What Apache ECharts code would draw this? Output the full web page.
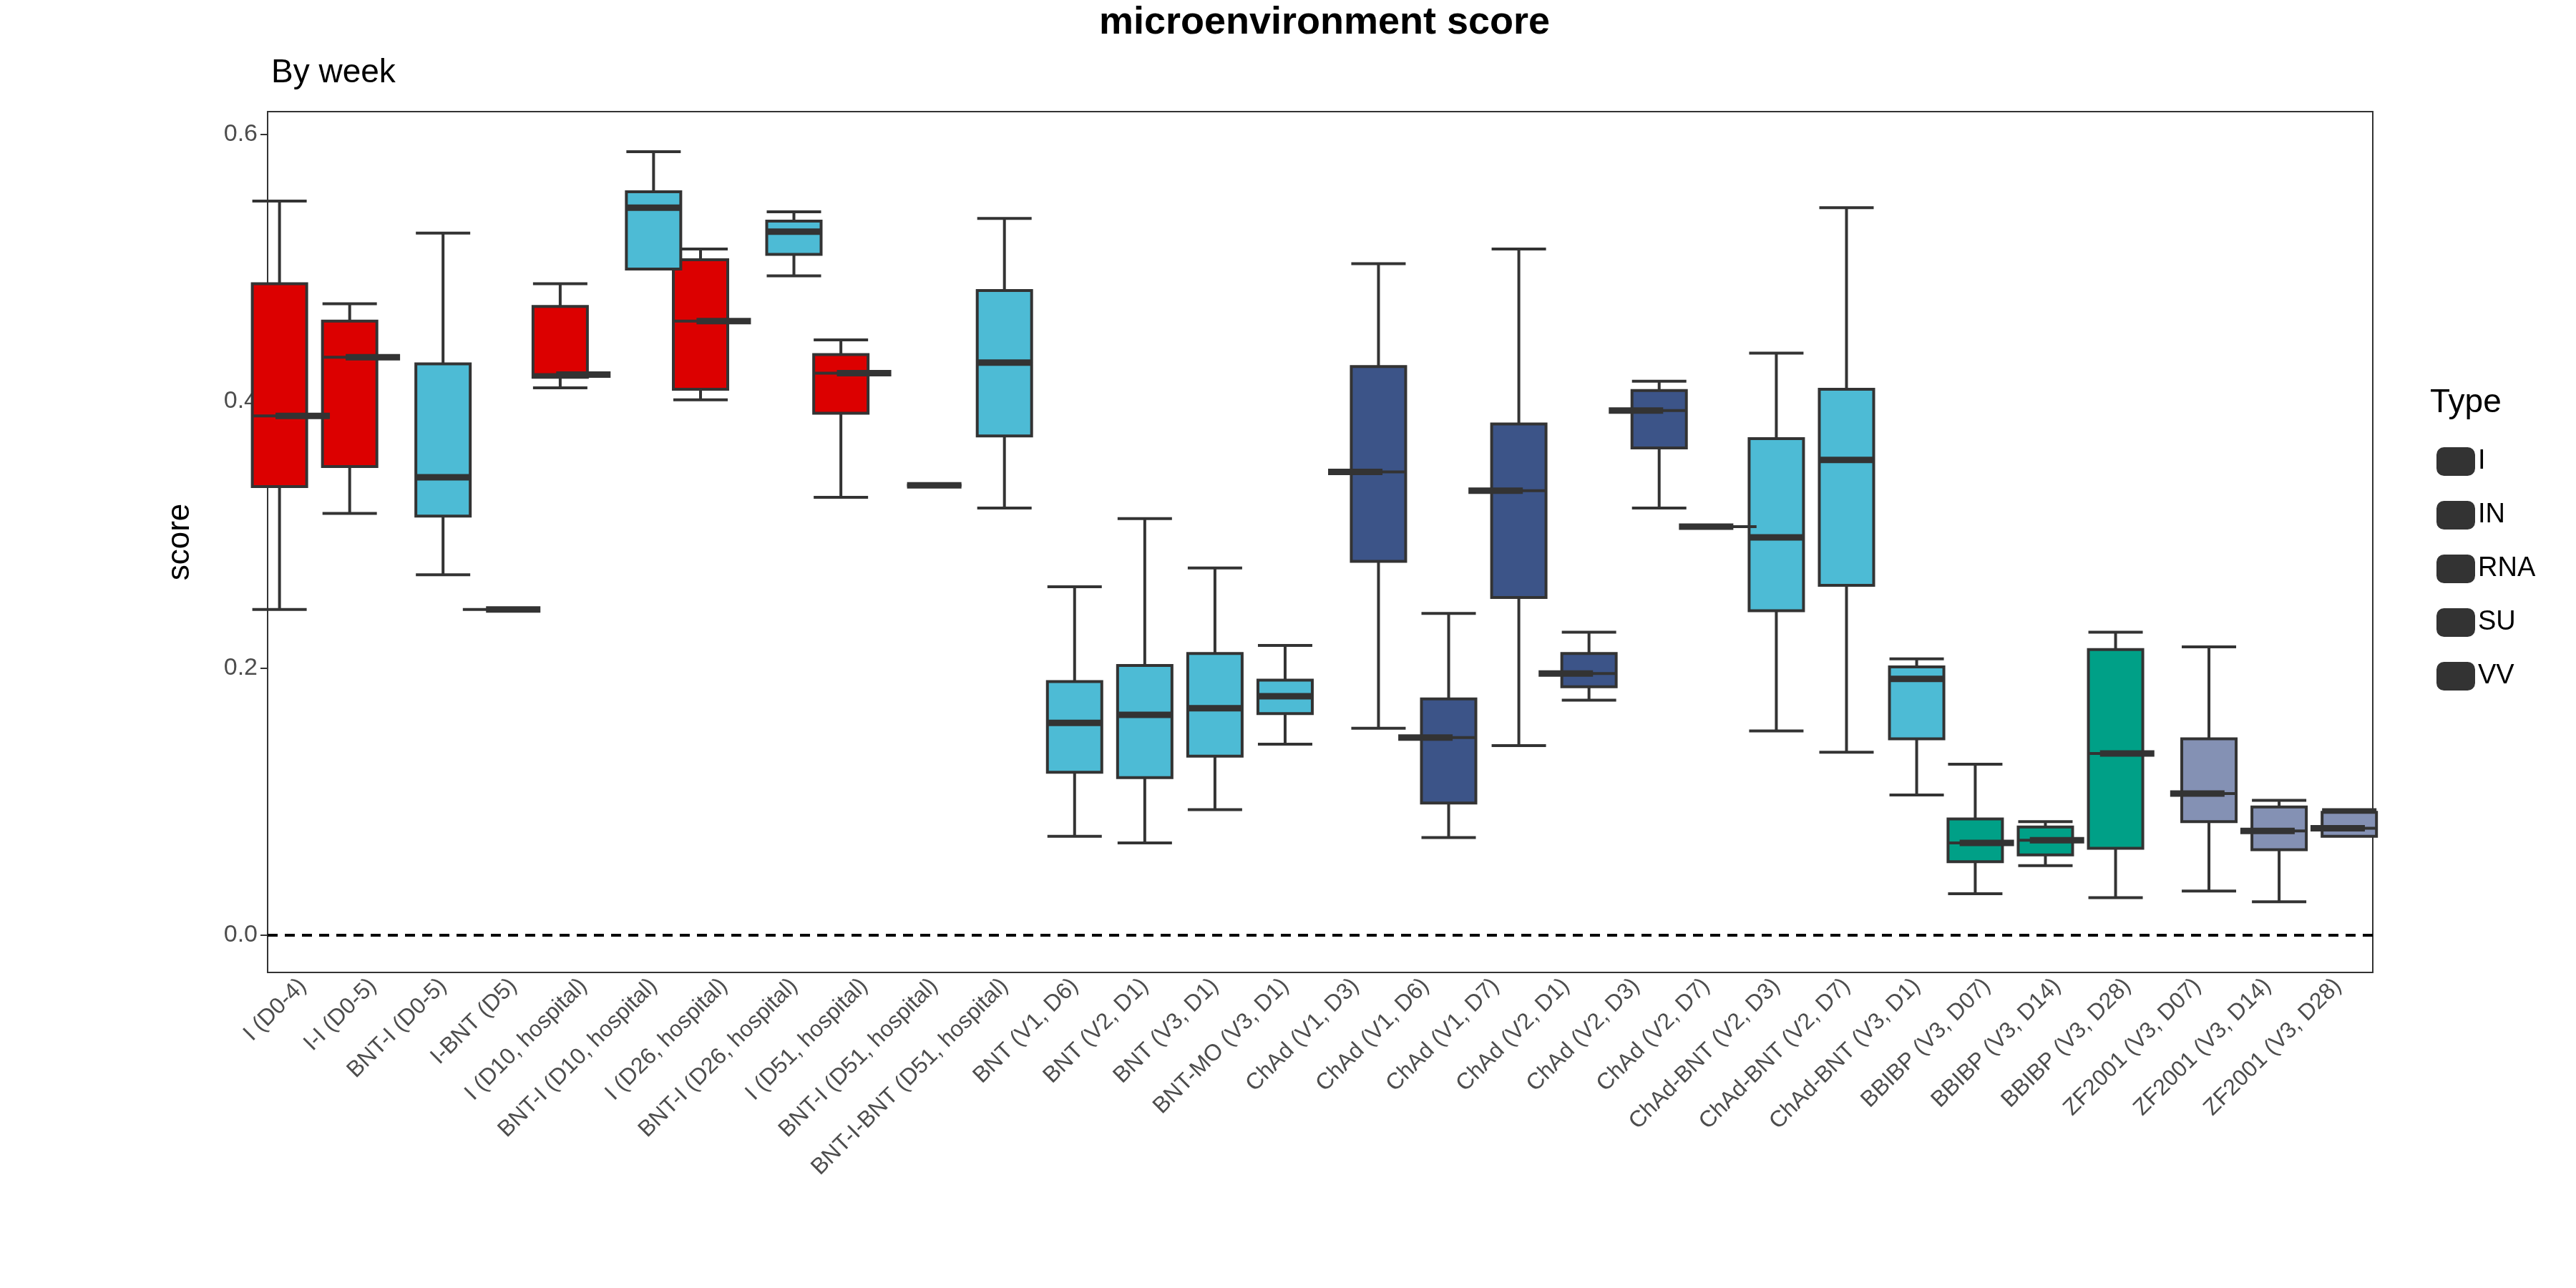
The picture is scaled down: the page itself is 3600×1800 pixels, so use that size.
<!DOCTYPE html>
<html>
<head>
<meta charset="utf-8">
<script src="https://cdn.jsdelivr.net/npm/echarts@6/dist/echarts.min.js"></script>
<style>html,body{margin:0;background:#fff}#main{width:3600px;height:1800px}</style>
</head>
<body>
<div id="main"></div>
<script>
var categories = ['I (D0-4)','I-I (D0-5)','BNT-I (D0-5)','I-BNT (D5)','I (D10, hospital)','BNT-I (D10, hospital)',
  'I (D26, hospital)','BNT-I (D26, hospital)','I (D51, hospital)','BNT-I (D51, hospital)','BNT-I-BNT (D51, hospital)',
  'BNT (V1, D6)','BNT (V2, D1)','BNT (V3, D1)','BNT-MO (V3, D1)','ChAd (V1, D3)','ChAd (V1, D6)','ChAd (V1, D7)',
  'ChAd (V2, D1)','ChAd (V2, D3)','ChAd (V2, D7)','ChAd-BNT (V2, D3)','ChAd-BNT (V2, D7)','ChAd-BNT (V3, D1)',
  'BBIBP (V3, D07)','BBIBP (V3, D14)','BBIBP (V3, D28)','ZF2001 (V3, D07)','ZF2001 (V3, D14)','ZF2001 (V3, D28)'];
var types = ['I','I','RNA','I','I','RNA','I','RNA','I','RNA','RNA','RNA','RNA','RNA','RNA',
  'VV','VV','VV','VV','VV','VV','RNA','RNA','RNA','IN','IN','IN','SU','SU','SU'];
// [low, q1, median, q3, high]
var boxes = [
  [0.244,0.336,0.389,0.488,0.550],[0.316,0.351,0.433,0.460,0.473],[0.270,0.314,0.343,0.428,0.526],
  [0.244,0.244,0.244,0.244,0.244],[0.410,0.418,0.420,0.471,0.488],[0.499,0.499,0.545,0.557,0.587],
  [0.401,0.409,0.460,0.506,0.514],[0.494,0.510,0.527,0.535,0.542],[0.328,0.391,0.421,0.435,0.446],
  [0.337,0.337,0.337,0.337,0.337],[0.320,0.374,0.429,0.483,0.537],[0.074,0.122,0.159,0.190,0.261],
  [0.069,0.118,0.165,0.202,0.312],[0.094,0.134,0.170,0.211,0.275],[0.143,0.166,0.179,0.191,0.217],
  [0.155,0.280,0.347,0.426,0.503],[0.073,0.099,0.148,0.177,0.241],[0.142,0.253,0.333,0.383,0.514],
  [0.176,0.186,0.196,0.211,0.227],[0.320,0.365,0.393,0.408,0.415],[0.306,0.306,0.306,0.306,0.306],
  [0.153,0.243,0.298,0.372,0.436],[0.137,0.262,0.356,0.409,0.545],[0.105,0.147,0.192,0.201,0.207],
  [0.031,0.055,0.069,0.087,0.128],[0.052,0.060,0.071,0.081,0.085],[0.028,0.065,0.136,0.214,0.227],
  [0.033,0.085,0.106,0.147,0.216],[0.025,0.064,0.078,0.096,0.101],[0.074,0.074,0.080,0.092,0.094]];
var typeNames = ['I','IN','RNA','SU','VV'];
var typeColors = {I:'#DC0000', IN:'#00A087', RNA:'#4DBBD5', SU:'#8491B4', VV:'#3C5488'};
var yTicks = [0, 0.2, 0.4, 0.6];

var chart = echarts.init(document.getElementById('main'));
var series = typeNames.map(function (t) {
  return {
    name: t, type: 'boxplot', boxWidth: [76, 76],
    itemStyle: {color: typeColors[t], borderColor: '#333', borderWidth: 4},
    emphasis: {disabled: true},
    data: boxes.map(function (b, i) { return types[i] === t ? b : '-'; })
  };
});
series[0].markLine = {
  silent: true, symbol: 'none', label: {show: false},
  lineStyle: {color: '#000', type: [14, 10], width: 4},
  data: [{yAxis: 0}]
};
series.push({
  type: 'custom', silent: true, z: 10,
  data: boxes.map(function (b, i) { return [i, b[2]]; }),
  renderItem: function (params, api) {
    var p = api.coord([api.value(0), api.value(1)]);
    return {type: 'line', shape: {x1: p[0] - 38, y1: p[1], x2: p[0] + 38, y2: p[1]},
      style: {stroke: '#333', lineWidth: 9}};
  }
});

chart.setOption({
  animation: false,
  title: [
    {text: 'microenvironment score', left: 1846, top: 0, textAlign: 'center',
     textStyle: {fontFamily: 'Liberation Sans', fontWeight: 'bold', fontSize: 54, color: '#000'}},
    {text: 'By week', left: 374, top: 74,
     textStyle: {fontFamily: 'Liberation Sans', fontWeight: 'normal', fontSize: 46, color: '#000'}}
  ],
  legend: {
    orient: 'vertical', left: 3400, top: 620, itemWidth: 52, itemHeight: 38, itemGap: 35,
    data: typeNames, textStyle: {fontFamily: 'Liberation Sans', fontSize: 38, color: '#000'}
  },
  graphic: [{type: 'text', left: 3396, top: 540,
    style: {text: 'Type', fontFamily: 'Liberation Sans', fontSize: 46, fill: '#000'}}],
  grid: {left: 374, right: 284, top: 156, bottom: 441, show: true, borderColor: '#333', borderWidth: 2},
  xAxis: {
    type: 'category', data: categories,
    axisLine: {show: false}, axisTick: {alignWithLabel: true, length: 10, lineStyle: {color: '#333', width: 2}},
    axisLabel: {rotate: 45, interval: 0, fontFamily: 'Liberation Sans', fontSize: 32, color: '#4d4d4d', margin: 14}
  },
  yAxis: {
    type: 'value', min: -0.028, max: 0.617, name: 'score', nameLocation: 'middle', nameGap: 100,
    nameTextStyle: {fontFamily: 'Liberation Sans', fontSize: 44, color: '#000'},
    axisLine: {show: false}, splitLine: {show: false},
    axisTick: {show: true, length: 10, lineStyle: {color: '#333', width: 2},
      customValues: yTicks},
    axisLabel: {fontFamily: 'Liberation Sans', fontSize: 34, color: '#4d4d4d', margin: 14,
      customValues: yTicks, formatter: function (v) { return v.toFixed(1); }}
  },
  series: series
});
</script>
</body>
</html>
